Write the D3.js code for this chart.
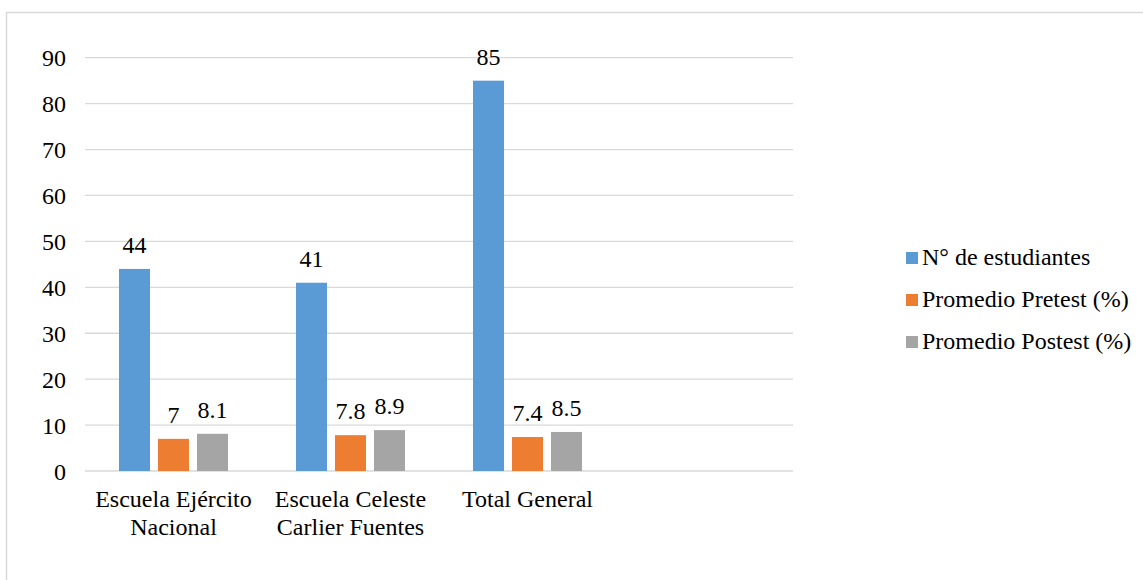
<!DOCTYPE html>
<html><head><meta charset="utf-8">
<script src="https://cdn.jsdelivr.net/npm/d3@7"></script>
<style>body{margin:0;background:#fff}svg{display:block}</style>
</head><body>
<script>
const categories = [["Escuela Ejército","Nacional"],["Escuela Celeste","Carlier Fuentes"],["Total General"],[""]];
const seriesNames = ["N° de estudiantes","Promedio Pretest (%)","Promedio Postest (%)"];
const estudiantes = [44, 41, 85];
const pretest = [7, 7.8, 7.4];
const postest = [8.1, 8.9, 8.5];
const yTicks = [0,10,20,30,40,50,60,70,80,90];
const colors = ["#5B9BD5","#ED7D31","#A5A5A5"];

const FONT = '"Liberation Serif"';
const FS = "24px";
function txt(sel){ return sel.style("font-family",FONT).style("font-size",FS).style("fill","#000"); }

const W = 1143, H = 580;
const svg = d3.select("body").append("svg").attr("width", W).attr("height", H);
svg.append("rect").attr("x",6.5).attr("y",12.5).attr("width",W+10).attr("height",H+10)
  .attr("fill","#fff").attr("stroke","#D9D9D9").attr("stroke-width",1.5);

const x0 = d3.scaleBand().domain(d3.range(categories.length)).range([85,793]).paddingInner(0).paddingOuter(0);
const y = d3.scaleLinear().domain([0,90]).range([471,57.7]);
const series = [estudiantes, pretest, postest];
const barW = 31, gap = 8;
const groupW = 3*barW + 2*gap;
const x1 = d3.scaleOrdinal().domain([0,1,2]).range([0, barW+gap, 2*(barW+gap)]);

// gridlines
svg.append("g").selectAll("line").data(yTicks).join("line")
  .attr("x1",85).attr("x2",793).attr("y1",d=>y(d)).attr("y2",d=>y(d))
  .attr("stroke","#D9D9D9").attr("stroke-width",1.3);

// y axis labels
const yAxis = d3.axisLeft(y).tickValues(yTicks).tickSize(0).tickPadding(0);
const gy = svg.append("g").attr("transform","translate(66,0)").call(yAxis);
gy.select(".domain").remove();
txt(gy.selectAll("text")).attr("dy","0.34em");

// bars
series.forEach((vals, si) => {
  const g = svg.append("g");
  g.selectAll("rect").data(vals).join("rect")
    .attr("x",(d,i)=>x0(i)+x0.bandwidth()/2-groupW/2+x1(si))
    .attr("y",d=>y(d)).attr("width",barW).attr("height",d=>y(0)-y(d))
    .attr("fill",colors[si]);
  txt(g.selectAll("text").data(vals).join("text"))
    .attr("x",(d,i)=>x0(i)+x0.bandwidth()/2-groupW/2+x1(si)+barW/2)
    .attr("y",d=>y(d)-16)
    .attr("text-anchor","middle")
    .text(d=>d);
});

// category labels
const cg = svg.append("g");
categories.forEach((lines,i)=>{
  const t = txt(cg.append("text")).attr("text-anchor","middle");
  lines.forEach((ln,j)=>{
    t.append("tspan").attr("x",x0(i)+x0.bandwidth()/2).attr("y",507+j*28).text(ln);
  });
});

// legend
const lg = svg.append("g");
seriesNames.forEach((n,i)=>{
  const yy = 257 + i*42;
  lg.append("rect").attr("x",906).attr("y",yy-5).attr("width",12).attr("height",12).attr("fill",colors[i]);
  txt(lg.append("text")).attr("x",922).attr("y",yy+8).text(n);
});
</script>
</body></html>
